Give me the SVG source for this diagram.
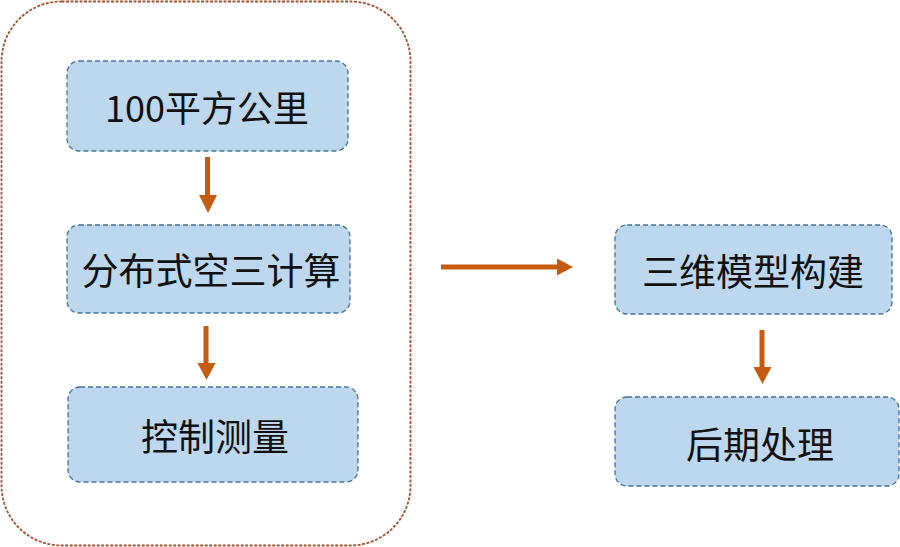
<svg xmlns="http://www.w3.org/2000/svg" width="900" height="547" viewBox="0 0 900 547">
<style>
.box{fill:#bdd7ee;stroke:#41719c;stroke-width:1.3;stroke-dasharray:5 3}
.outer{fill:none;stroke:#a0522d;stroke-width:1.8;stroke-dasharray:3 1.5}
.t{font-family:"Noto Sans CJK SC","Liberation Sans",sans-serif;font-size:37px;fill:#111;text-anchor:middle;dominant-baseline:central}
.arr{stroke:#c55a11;stroke-width:5;fill:none}
.head{fill:#c55a11}
</style>
<rect width="900" height="547" fill="#fff"/>
<g id="container"><rect class="outer" x="1.5" y="1.5" width="409" height="544" rx="60"/></g>
<g id="n1"><rect class="box" x="67" y="61" width="281" height="90" rx="12"/><text class="t" x="207" y="106" style="font-size:36px">100平方公里</text></g>
<g id="n2"><rect class="box" x="67" y="225" width="283" height="88" rx="12"/><text class="t" x="211" y="269">分布式空三计算</text></g>
<g id="n3"><rect class="box" x="68" y="387" width="290" height="95" rx="12"/><text class="t" x="215" y="435">控制测量</text></g>
<g id="n4"><rect class="box" x="615" y="225" width="277" height="89" rx="12"/><text class="t" x="753" y="270">三维模型构建</text></g>
<g id="n5"><rect class="box" x="615" y="397" width="284" height="89" rx="12"/><text class="t" x="760" y="443">后期处理</text></g>
<g id="connectors">
<line class="arr" x1="207.5" y1="157" x2="207.5" y2="196"/><polygon class="head" points="199,195 217,195 208,213"/>
<line class="arr" x1="206" y1="326" x2="206" y2="364"/><polygon class="head" points="197.5,363 215.5,363 206.5,380"/>
<line class="arr" x1="441" y1="267" x2="558" y2="267"/><polygon class="head" points="557,258.5 557,275.5 573,267"/>
<line class="arr" x1="762" y1="330" x2="762" y2="368"/><polygon class="head" points="753.5,367 771.5,367 762.5,384"/>
</g>
</svg>
